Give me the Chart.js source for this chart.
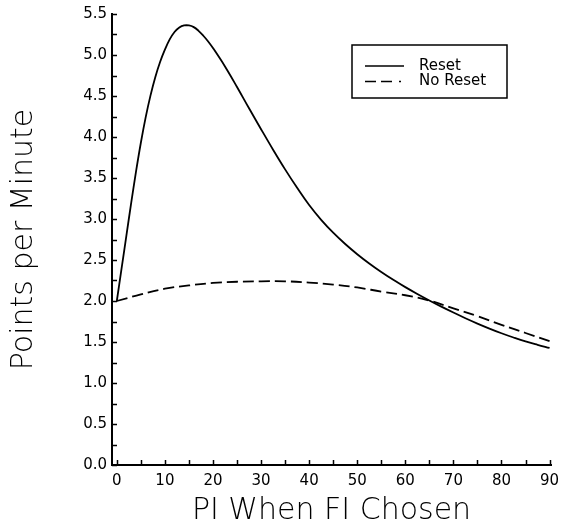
<!DOCTYPE html>
<html><head><meta charset="utf-8">
<style>html,body{margin:0;padding:0;background:#fff;}#wrap{width:570px;height:526px;}</style>
<script src="https://cdn.jsdelivr.net/npm/chart.js@4/dist/chart.umd.min.js"></script>
</head><body><div id="wrap"><canvas id="c" width="570" height="526"></canvas></div>
<script>
// ---- data ----
const resetX = [0,1,2,3,4,5,6,7,8,9,10,11,12,13,14,15,16,17,18,19,20,22.5,25,27.5,30,32.5,35,37.5,40,42.5,45,47.5,50,52.5,55,57.5,60,62.5,65,67.5,70,72.5,75,77.5,80,82.5,85,87.5,90];
const resetY = [2.00,2.40,2.80,3.20,3.58,3.93,4.24,4.505,4.73,4.915,5.065,5.19,5.28,5.335,5.36,5.36,5.34,5.295,5.235,5.165,5.085,4.86,4.61,4.35,4.095,3.845,3.605,3.38,3.17,2.99,2.833,2.695,2.571,2.458,2.354,2.258,2.169,2.086,2.007,1.931,1.859,1.79,1.725,1.664,1.607,1.555,1.507,1.466,1.428];
const noResetX = [0,5,10,15,20,25,30,35,40,45,50,55,60,65,70,75,80,85,90];
const noResetY = [2.00,2.08,2.15,2.19,2.22,2.235,2.24,2.24,2.225,2.20,2.165,2.115,2.07,2.005,1.91,1.815,1.71,1.61,1.51];
const seriesNames = ['Reset','No Reset'];
const xTitle = 'PI When FI Chosen';
const yTitle = 'Points per Minute';
const xTickValues = [0,5,10,15,20,25,30,35,40,45,50,55,60,65,70,75,80,85,90];
const yTickValues = [0,0.25,0.5,0.75,1,1.25,1.5,1.75,2,2.25,2.5,2.75,3,3.25,3.5,3.75,4,4.25,4.5,4.75,5,5.25,5.5];

const toPts = (xs, ys) => xs.map((x, i) => ({x, y: ys[i]}));
const LABEL_FONT = {family: "'DejaVu Sans', sans-serif", size: 15};
const TITLE_FONT = {family: "'DejaVu Sans', sans-serif", size: 30, weight: 200, lineHeight: 1};

const innerTicks = {
  id: 'innerTicks',
  afterDraw(chart) {
    const {ctx, chartArea: a, scales: {x, y}} = chart;
    ctx.save();
    ctx.strokeStyle = '#000';
    ctx.lineWidth = 1.5;
    ctx.beginPath();
    xTickValues.forEach(v => { const px = Math.round(x.getPixelForValue(v)) + 0.5; ctx.moveTo(px, a.bottom); ctx.lineTo(px, a.bottom - 5); });
    yTickValues.forEach(v => { const py = Math.round(y.getPixelForValue(v)) + 0.5; ctx.moveTo(a.left, py); ctx.lineTo(a.left + 5, py); });
    ctx.stroke();
    ctx.restore();
  }
};

const boxLegend = {
  id: 'boxLegend',
  afterDraw(chart) {
    const {ctx, chartArea: a} = chart;
    const bx = a.left + 240, by = a.top + 31, bw = 155, bh = 53;
    ctx.save();
    ctx.strokeStyle = '#000';
    ctx.lineWidth = 1.5;
    ctx.strokeRect(bx, by, bw, bh);
    ctx.font = "15px 'DejaVu Sans', sans-serif";
    ctx.fillStyle = '#000';
    ctx.textBaseline = 'middle';
    const rows = [{y: by + 21, dash: []}, {y: by + 36.5, dash: [11, 5, 11, 7, 2, 100]}];
    rows.forEach((r, i) => {
      ctx.beginPath();
      ctx.setLineDash(r.dash);
      ctx.lineWidth = 1.5;
      ctx.moveTo(bx + 13, r.y);
      ctx.lineTo(bx + 52, r.y);
      ctx.stroke();
      ctx.setLineDash([]);
      ctx.fillText(seriesNames[i], bx + 67, r.y);
    });
    ctx.restore();
  }
};

new Chart(document.getElementById('c'), {
  type: 'scatter',
  data: {
    datasets: [
      {label: seriesNames[0], data: toPts(resetX, resetY), showLine: true, borderColor: '#000', borderWidth: 1.8, pointRadius: 0, tension: 0.4, fill: false},
      {label: seriesNames[1], data: toPts(noResetX, noResetY), showLine: true, borderColor: '#000', borderWidth: 1.8, borderDash: [11, 5], pointRadius: 0, tension: 0.4, fill: false}
    ]
  },
  options: {
    responsive: false,
    animation: false,
    events: [],
    layout: {padding: {top: 14, right: 19, left: 0, bottom: 0}},
    plugins: {legend: {display: false}, tooltip: {enabled: false}},
    scales: {
      x: {
        type: 'linear', min: -1, max: 90.3,
        afterBuildTicks: s => { s.ticks = xTickValues.map(v => ({value: v})); },
        afterFit: s => { s.height = 61; },
        grid: {display: false, drawTicks: false},
        border: {display: true, color: '#000', width: 2},
        ticks: {color: '#000', font: LABEL_FONT, padding: 7, maxRotation: 0, autoSkip: false,
          callback: v => (v % 10 === 0 ? String(v) : '')},
        title: {display: true, text: xTitle, color: '#000', font: TITLE_FONT, padding: {top: 0, bottom: 0}}
      },
      y: {
        type: 'linear', min: 0, max: 5.5,
        afterBuildTicks: s => { s.ticks = yTickValues.map(v => ({value: v})); },
        afterFit: s => { s.width = 112; },
        grid: {display: false, drawTicks: false},
        border: {display: true, color: '#000', width: 2},
        ticks: {color: '#000', font: LABEL_FONT, padding: 5, autoSkip: false,
          callback: v => (Math.abs(v * 2 - Math.round(v * 2)) < 1e-9 ? v.toFixed(1) : '')},
        title: {display: true, text: yTitle, color: '#000', font: TITLE_FONT, padding: {top: 9, bottom: 0}}
      }
    }
  },
  plugins: [innerTicks, boxLegend]
});
</script>
</body></html>
